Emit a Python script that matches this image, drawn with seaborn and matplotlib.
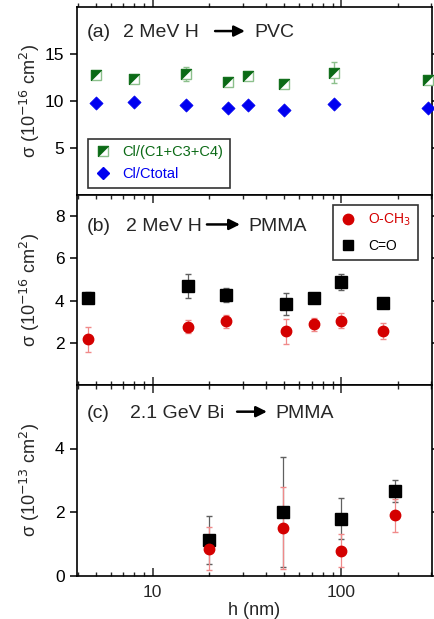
import numpy as np
import pandas as pd
import seaborn as sns
import matplotlib.pyplot as plt
from matplotlib.ticker import NullFormatter, LogLocator

# panel (a) 2 MeV H -> PVC
h_a = [5.0, 7.96, 15.1, 25.1, 32.1, 49.9, 92.1, 290]
cl_c134 = [12.75, 12.3, 12.9, 12.0, 12.7, 11.8, 13.0, 12.2]
cl_c134_err = [0.3, 0.25, 0.75, 0.25, 0.25, 0.25, 1.1, 0.3]
cl_ctot = [9.8, 9.9, 9.55, 9.3, 9.55, 9.0, 9.65, 9.25]

# panel (b) 2 MeV H -> PMMA
h_b = [4.55, 15.4, 24.4, 50.7, 71.6, 99.6, 166]
och3_b = [2.17, 2.76, 3.01, 2.54, 2.87, 3.05, 2.55]
och3_b_err = [0.6, 0.32, 0.3, 0.6, 0.32, 0.36, 0.38]
co_b = [4.13, 4.69, 4.26, 3.83, 4.1, 4.88, 3.9]
co_b_err = [0.26, 0.57, 0.33, 0.53, 0.15, 0.36, 0.1]

# panel (c) 2.1 GeV Bi -> PMMA
h_c = [19.8, 49.3, 100, 193]
och3_c = [0.85, 1.49, 0.78, 1.9]
och3_c_err = [0.69, 1.29, 0.52, 0.52]
co_c = [1.11, 2.0, 1.79, 2.66]
co_c_err = [0.75, 1.74, 0.64, 0.35]

sns.set_theme(style="ticks")
plt.rcParams['font.family'] = ['Liberation Sans', 'DejaVu Sans']

GREEN = '#0b6a16'
LGREEN = '#8cc08c'
BLUE = '#0000f0'
RED = '#d40000'
LRED = '#f08a8a'
GRAY = '#606060'

W, H = 435, 619
fig = plt.figure(figsize=(4.35, 6.19), dpi=100)
L, R = 77 / W, 432 / W
ax_a = fig.add_axes([L, 1 - 195 / H, R - L, 188 / H])
ax_b = fig.add_axes([L, 1 - 385 / H, R - L, 190 / H])
ax_c = fig.add_axes([L, 1 - 575.5 / H, R - L, 190.5 / H])

ulq = [(-1, -1), (-1, 1), (1, 1), (-1, -1)]

# (a)
ax_a.errorbar(h_a, cl_c134, yerr=cl_c134_err, fmt='none', ecolor=LGREEN, elinewidth=1, capsize=2.5, zorder=2)
sq, = ax_a.plot(h_a, cl_c134, 's', ms=7.5, mfc='white', mec=LGREEN, mew=1, zorder=3, clip_on=False)
tri, = ax_a.plot(h_a, cl_c134, ls='none', marker=ulq, ms=7.5, mfc=GREEN, mec=GREEN, mew=0.6, zorder=4, clip_on=False)
df_a = pd.DataFrame({'h': h_a, 's': cl_ctot})
sns.scatterplot(data=df_a, x='h', y='s', ax=ax_a, marker='D', s=45, color=BLUE, edgecolor=BLUE, linewidth=0.5, zorder=3, clip_on=False)
dia, = ax_a.plot([], [], 'D', ms=6, color=BLUE)
leg = ax_a.legend([(sq, tri), dia], ['Cl/(C1+C3+C4)', 'Cl/Ctotal'], loc='lower left',
                  bbox_to_anchor=(0.031, 0.037), fontsize=10.5, frameon=True, fancybox=False,
                  edgecolor='#333333', framealpha=1, borderpad=0.45, labelspacing=0.55,
                  handlelength=1.2, handletextpad=0.7, borderaxespad=0)
leg.get_frame().set_linewidth(1.2)
for t, c in zip(leg.get_texts(), [GREEN, BLUE]):
    t.set_color(c)
ax_a.set_ylim(0, 20)
ax_a.set_yticks([5, 10, 15])

# (b)
ax_b.errorbar(h_b, och3_b, yerr=och3_b_err, fmt='none', ecolor=LRED, elinewidth=0.9, capsize=2, zorder=2)
ax_b.errorbar(h_b, co_b, yerr=co_b_err, fmt='none', ecolor=GRAY, elinewidth=0.9, capsize=2, zorder=2)
ax_b.plot(h_b, och3_b, 'o', ms=7.5, color=RED, zorder=3)
ax_b.plot(h_b, co_b, 's', ms=8.5, color='black', zorder=3)
ro, = ax_b.plot([], [], 'o', ms=7.5, color=RED)
bs, = ax_b.plot([], [], 's', ms=7.5, color='black')
leg = ax_b.legend([ro, bs], ['O-CH$_3$', 'C=O'], loc='upper right', bbox_to_anchor=(0.96, 0.947),
                  fontsize=10, frameon=True, fancybox=False, edgecolor='#333333', framealpha=1,
                  borderpad=0.5, labelspacing=0.75, handlelength=1.2, handletextpad=0.8, borderaxespad=0)
leg.get_frame().set_linewidth(1.2)
for t, c in zip(leg.get_texts(), [RED, 'black']):
    t.set_color(c)
ax_b.set_ylim(0, 9)
ax_b.set_yticks([2, 4, 6, 8])

# (c)
ax_c.errorbar(h_c, co_c, yerr=co_c_err, fmt='none', ecolor=GRAY, elinewidth=0.9, capsize=2, zorder=2)
ax_c.errorbar(h_c, och3_c, yerr=och3_c_err, fmt='none', ecolor=LRED, elinewidth=0.9, capsize=2, zorder=2)
ax_c.plot(h_c, co_c, 's', ms=8.5, color='black', zorder=3)
ax_c.plot(h_c, och3_c, 'o', ms=7.5, color=RED, zorder=4)
ax_c.set_ylim(0, 6)
ax_c.set_yticks([0, 2, 4])

titles = [(ax_a, '(a)', 0.130, '2 MeV H', 0.389, 0.473, 0.501, 'PVC', 0.862),
          (ax_b, '(b)', 0.138, '2 MeV H', 0.366, 0.459, 0.482, 'PMMA', 0.835),
          (ax_c, '(c)', 0.149, '2.1 GeV Bi', 0.451, 0.535, 0.558, 'PMMA', 0.85)]
for ax, lab, xs, src, a0, a1, xt, tgt, yy in titles:
    ax.text(0.028, yy, lab, transform=ax.transAxes, fontsize=14, va='center', ha='left')
    ax.text(xs, yy, src, transform=ax.transAxes, fontsize=14, va='center', ha='left')
    ax.annotate('', xy=(a1, yy + 0.01), xytext=(a0, yy + 0.01), xycoords='axes fraction',
                arrowprops=dict(arrowstyle='-|>', color='black', lw=1.8, mutation_scale=16, shrinkA=0, shrinkB=0))
    ax.text(xt, yy, tgt, transform=ax.transAxes, fontsize=14, va='center', ha='left')

for ax, exp in [(ax_a, '-16'), (ax_b, '-16'), (ax_c, '-13')]:
    ax.set_xscale('log')
    ax.set_xlim(3.97, 303)
    ax.set_xlabel('')
    ax.set_ylabel('σ (10$^{%s}$ cm$^2$)' % exp, fontsize=13)
    ax.yaxis.set_label_coords(-0.10, 0.5)
    for s in ax.spines.values():
        s.set_visible(True)
        s.set_linewidth(1.2)
        s.set_color('black')
    ax.tick_params(axis='y', which='major', direction='out', length=5, width=1.1, labelsize=12.5,
                   right=True, left=True, colors='black', pad=4)
    ax.tick_params(axis='x', which='major', direction='in', length=6, width=1.1, top=True, labelsize=12.5, pad=7)
    ax.tick_params(axis='x', which='minor', direction='in', length=3, width=1, top=True)
    ax.xaxis.set_major_locator(LogLocator(base=10, numticks=10))
    ax.xaxis.set_minor_locator(LogLocator(base=10, subs=np.arange(2, 10), numticks=10))
    ax.grid(False)

ax_a.tick_params(axis='x', which='both', bottom=True, direction='out')
for ax in (ax_a, ax_b):
    ax.xaxis.set_major_formatter(NullFormatter())
    ax.xaxis.set_minor_formatter(NullFormatter())
ax_c.xaxis.set_minor_formatter(NullFormatter())
ax_c.set_xticks([10, 100])
ax_c.set_xticklabels(['10', '100'])
ax_c.set_xlabel('h (nm)', fontsize=13, labelpad=1)

fig.savefig('out.png', dpi=100)
